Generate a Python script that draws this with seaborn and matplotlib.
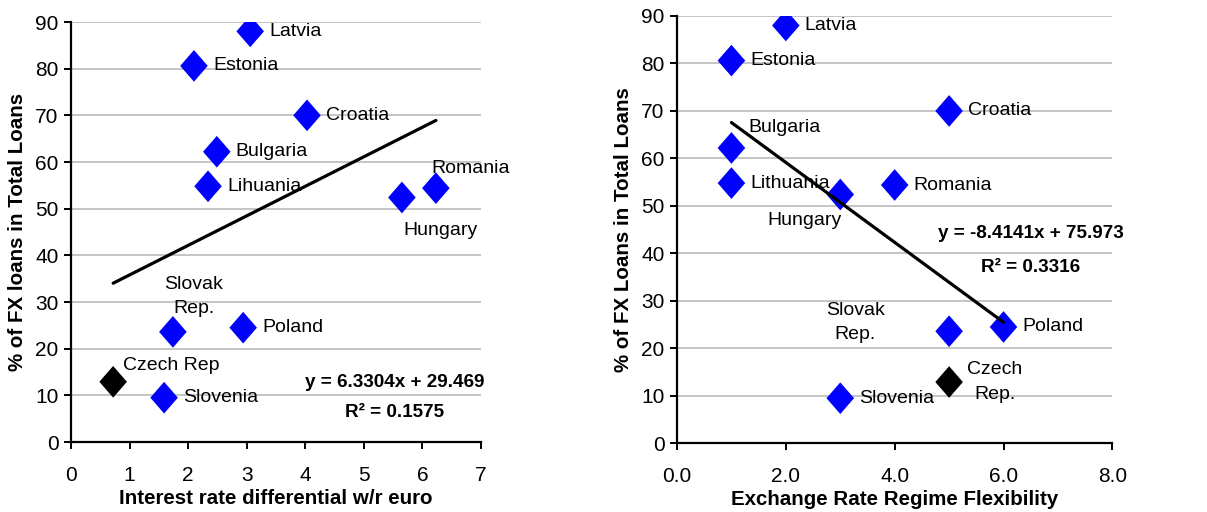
import numpy as np
import pandas as pd
import seaborn as sns
import matplotlib.pyplot as plt

# Data
countries = ["Latvia", "Estonia", "Croatia", "Bulgaria", "Lithuania", "Hungary",
             "Romania", "Slovak Rep.", "Poland", "Czech Rep.", "Slovenia"]
fx_share = [88.0, 80.6, 70.0, 62.2, 54.8, 52.4, 54.4, 23.6, 24.5, 12.9, 9.5]
rate_diff = [3.06, 2.10, 4.03, 2.49, 2.34, 5.65, 6.23, 1.74, 2.94, 0.72, 1.59]
flexibility = [2, 1, 5, 1, 1, 3, 4, 5, 6, 5, 3]
labels_left = ["Latvia", "Estonia", "Croatia", "Bulgaria", "Lihuania", "Hungary",
               "Romania", "Slovak\nRep.", "Poland", "Czech Rep", "Slovenia"]
labels_right = ["Latvia", "Estonia", "Croatia", "Bulgaria", "Lithuania", "Hungary",
                "Romania", "Slovak\nRep.", "Poland", "Czech\nRep.", "Slovenia"]
group = ["other"] * 9 + ["czech", "other"]
trend_left = (6.3304, 29.469, 0.1575)
trend_right = (-8.4141, 75.973, 0.3316)

# label offsets in pixels (dx, dy, ha)
offs_left = [(19, 0, "left"), (19, 0, "left"), (19, 0, "left"), (19, 0, "left"),
             (19, 0, "left"), (1, -33, "left"), (-5, 20, "left"), (21, 35, "center"),
             (19, 0, "left"), (10, 16, "left"), (19, 0, "left")]
offs_right = [(19, 0, "left"), (19, 0, "left"), (19, 0, "left"), (17, 20, "left"),
              (19, 0, "left"), (-36, -26, "center"), (19, 0, "left"), (-94, 9, "center"),
              (19, 0, "left"), (46, 0, "center"), (19, 0, "left")]

df = pd.DataFrame({"country": countries, "fx": fx_share, "rate": rate_diff,
                   "flex": flexibility, "group": group})

sns.set_style("white")
plt.rcParams['font.family'] = ['Liberation Sans', 'DejaVu Sans']
plt.rcParams['text.color'] = 'black'
plt.rcParams['axes.labelcolor'] = 'black'
plt.rcParams['xtick.color'] = 'black'
plt.rcParams['ytick.color'] = 'black'

fig = plt.figure(figsize=(12.07, 5.12), dpi=100)
ax1 = fig.add_axes([0.0588, 0.1367, 0.3397, 0.8203])
ax2 = fig.add_axes([0.5609, 0.1342, 0.3607, 0.8346])

palette = {"other": "#0000FF", "czech": "#000000"}
diamond = [(0, 1), (0.87, 0), (0, -1), (-0.87, 0), (0, 1)]


def draw(ax, xcol, labels, offs, trend, eq_pos, eq_gap):
    ax.yaxis.grid(True, color="#C0C0C0", linewidth=1.3)
    ax.set_axisbelow(True)
    sns.scatterplot(data=df, x=xcol, y="fx", hue="group", palette=palette, marker=diamond,
                    s=520, edgecolor="none", legend=False, ax=ax, zorder=3)
    xs = np.array([df[xcol].min(), df[xcol].max()])
    sns.lineplot(x=xs, y=trend[0] * xs + trend[1], color="black", linewidth=2.3,
                 ax=ax, zorder=4)
    for xv, yv, lab, (dx, dy, ha) in zip(df[xcol], df["fx"], labels, offs):
        ax.annotate(lab, (xv, yv), xytext=(dx, dy), textcoords="offset pixels",
                    ha=ha, va="center", fontsize=14, linespacing=1.55,
                    multialignment="center")
    ax.annotate(f"y = {trend[0]:.4f}x + {trend[1]:.3f}", eq_pos, xytext=(0, eq_gap / 2),
                textcoords="offset pixels", ha="center", va="center",
                fontsize=13.6, fontweight="bold")
    ax.annotate(f"R\u00b2 = {trend[2]:.4f}", eq_pos, xytext=(0, -eq_gap / 2),
                textcoords="offset pixels", ha="center", va="center",
                fontsize=13.6, fontweight="bold")
    ax.set_ylim(0, 90)
    ax.set_yticks(range(0, 91, 10))
    for side in ["top", "right"]:
        ax.spines[side].set_visible(False)
    for side in ["left", "bottom"]:
        ax.spines[side].set_color("black")
        ax.spines[side].set_linewidth(1.6)
    ax.tick_params(axis="both", direction="out", length=5, width=1.4, color="black",
                   labelsize=15, bottom=True, left=True)
    ax.tick_params(axis="x", pad=12)
    ax.tick_params(axis="y", pad=4)


draw(ax1, "rate", labels_left, offs_left, trend_left, (5.52, 9.6), 30)
ax1.set_xlim(0, 7)
ax1.set_xticks(range(0, 8))
ax1.set_xlabel("Interest rate differential w/r euro", fontsize=14.8, fontweight="bold",
               labelpad=3)
ax1.set_ylabel("% of FX loans in Total Loans", fontsize=14.8, fontweight="bold",
               labelpad=6)

draw(ax2, "flex", labels_right, offs_right, trend_right, (6.5, 40.7), 34)
ax2.set_xlim(0, 8)
ax2.set_xticks([0, 2, 4, 6, 8])
ax2.set_xticklabels([f"{v:.1f}" for v in [0, 2, 4, 6, 8]])
ax2.set_xlabel("Exchange Rate Regime Flexibility", fontsize=14.8, fontweight="bold",
               labelpad=3)
ax2.set_ylabel("% of FX Loans in Total Loans", fontsize=14.8, fontweight="bold",
               labelpad=6)

fig.savefig("out.png", dpi=100)
